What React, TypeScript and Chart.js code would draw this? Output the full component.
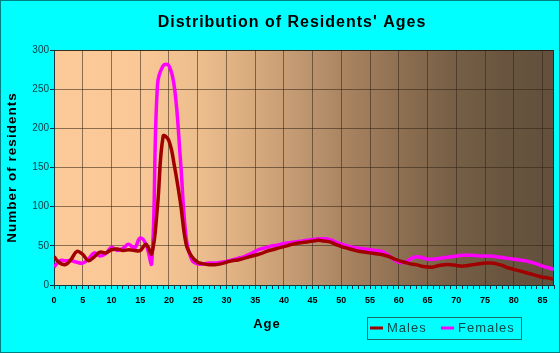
import React, { useEffect, useRef } from 'react';
import { Chart, registerables } from 'chart.js';

Chart.register(...registerables);

const TITLE = "Distribution of Residents' Ages";
const X_TITLE = 'Age';
const Y_TITLE = 'Number of residents';
const SERIES_NAMES = ['Males', 'Females'];
const SERIES_COLORS = ['#A00000', '#FF00FF'];

const AGES = [
  0, 1, 2, 3, 4, 5, 6, 7, 8, 9, 10, 11, 12, 13, 14, 15, 16, 17, 18, 19,
  20, 21, 22, 23, 24, 25, 26, 27, 28, 29, 30, 31, 32, 33, 34, 35, 36, 37, 38, 39,
  40, 41, 42, 43, 44, 45, 46, 47, 48, 49, 50, 51, 52, 53, 54, 55, 56, 57, 58, 59,
  60, 61, 62, 63, 64, 65, 66, 67, 68, 69, 70, 71, 72, 73, 74, 75, 76, 77, 78, 79,
  80, 81, 82, 83, 84, 85, 86, 87,
];

const MALES = [
  36, 28, 26, 33, 43, 39, 31, 36, 42, 41, 45, 46, 44, 45, 44, 44, 52, 40, 100, 190,
  184, 150, 105, 52, 36, 29, 27, 26, 26, 27, 29, 31, 32, 34, 36, 38, 40, 43, 45, 47,
  49, 51, 53, 54, 55, 56, 57, 56, 55, 52, 49, 47, 45, 43, 42, 41, 40, 39, 37, 34,
  31, 29, 27, 26, 24, 23, 23, 25, 26, 26, 25, 24, 25, 26, 27, 28, 28, 27, 25, 22,
  20, 18, 16, 14, 12, 10, 9, 7,
];

const FEMALES = [
  23, 31, 31, 31, 29, 28, 33, 41, 37, 40, 48, 44, 47, 52, 47, 60, 52, 28, 255, 280,
  280, 250, 160, 60, 32, 27, 27, 28, 28, 29, 30, 32, 34, 36, 39, 43, 46, 48, 50, 51,
  53, 54, 55, 56, 57, 58, 59, 59, 58, 55, 52, 50, 48, 47, 46, 45, 44, 43, 39, 33,
  29, 29, 33, 36, 35, 33, 33, 34, 35, 36, 37, 38, 38, 38, 37, 37, 37, 36, 35, 34,
  33, 32, 31, 29, 27, 24, 22, 20,
];

const X_MIN = 0;
const X_MAX = 87;
const X_LABEL_STEP = 5;
const Y_MIN = 0;
const Y_MAX = 300;
const Y_STEP = 50;

const FONT = '"Liberation Sans", Arial, sans-serif';
const GRID = 'rgba(50,35,20,0.55)';
const AXIS = '#103840';

const drawPlugin = {
  id: 'customDraw',
  beforeDraw(chart: any) {
    const { ctx, chartArea: a, width, height } = chart;
    ctx.save();
    ctx.fillStyle = '#00FFFF';
    ctx.fillRect(0, 0, width, height);
    ctx.strokeStyle = '#008080';
    ctx.lineWidth = 1;
    ctx.strokeRect(0.5, 0.5, width - 1, height - 1);
    const g = ctx.createLinearGradient(a.left, 0, a.right, 0);
    g.addColorStop(0, 'rgb(252,202,152)');
    g.addColorStop(0.17, 'rgb(250,200,150)');
    g.addColorStop(0.3, 'rgb(235,188,140)');
    g.addColorStop(0.4, 'rgb(215,170,125)');
    g.addColorStop(0.5, 'rgb(190,150,112)');
    g.addColorStop(0.6, 'rgb(165,128,95)');
    g.addColorStop(0.7, 'rgb(140,110,80)');
    g.addColorStop(0.8, 'rgb(118,95,70)');
    g.addColorStop(0.9, 'rgb(105,85,63)');
    g.addColorStop(1, 'rgb(98,80,60)');
    ctx.fillStyle = g;
    ctx.fillRect(a.left, a.top, a.right - a.left, a.bottom - a.top);
    ctx.restore();
  },
  beforeDatasetsDraw(chart: any) {
    const { ctx, chartArea: a } = chart;
    ctx.save();
    ctx.strokeStyle = 'rgba(40,30,20,0.8)';
    ctx.lineWidth = 1;
    ctx.beginPath();
    ctx.moveTo(a.left, Math.round(a.top) + 0.5);
    ctx.lineTo(Math.round(a.right) - 0.5, Math.round(a.top) + 0.5);
    ctx.lineTo(Math.round(a.right) - 0.5, a.bottom);
    ctx.stroke();
    ctx.restore();
  },
  afterDraw(chart: any) {
    const { ctx } = chart;
    ctx.save();
    (ctx as any).letterSpacing = '1px';
    ctx.textBaseline = 'middle';
    ctx.textAlign = 'center';
    ctx.fillStyle = '#000000';
    ctx.font = `bold 16px ${FONT}`;
    ctx.fillText(TITLE, 292, 23);
    ctx.font = `bold 13px ${FONT}`;
    ctx.fillText(X_TITLE, 267, 324);
    ctx.save();
    ctx.translate(12, 167.5);
    ctx.rotate(-Math.PI / 2);
    ctx.font = `bold 13.5px ${FONT}`;
    ctx.fillText(Y_TITLE, 0, 0);
    ctx.restore();
    ctx.strokeStyle = '#1a6a6a';
    ctx.lineWidth = 1;
    ctx.strokeRect(367.5, 317.5, 154, 22);
    const items = [
      { x: 370, tx: 387 },
      { x: 441, tx: 458 },
    ];
    ctx.textAlign = 'left';
    ctx.font = `13px ${FONT}`;
    items.forEach((it, i) => {
      ctx.strokeStyle = SERIES_COLORS[i];
      ctx.lineWidth = 3;
      ctx.beginPath();
      ctx.moveTo(it.x, 328);
      ctx.lineTo(it.x + 13, 328);
      ctx.stroke();
      ctx.fillStyle = '#0a4a4a';
      ctx.fillText(SERIES_NAMES[i], it.tx, 328.5);
    });
    (ctx as any).letterSpacing = '0px';
    ctx.restore();
  },
};

export default function App() {
  const ref = useRef<HTMLCanvasElement | null>(null);

  useEffect(() => {
    if (!ref.current) return;
    const series = [MALES, FEMALES];
    const chart = new Chart(ref.current, {
      type: 'line',
      data: {
        datasets: series.map((vals, i) => ({
          label: SERIES_NAMES[i],
          data: AGES.map((age, j) => ({ x: age, y: vals[j] })),
          borderColor: SERIES_COLORS[i],
          backgroundColor: SERIES_COLORS[i],
          borderWidth: 3.5,
          pointRadius: 0,
          tension: 0.4,
          fill: false,
        })),
      },
      options: {
        responsive: false,
        animation: false,
        devicePixelRatio: 1,
        layout: { padding: { left: 0, right: 5, top: 50, bottom: 0 } },
        plugins: {
          legend: { display: false },
          title: { display: false },
          tooltip: { enabled: false },
        },
        scales: {
          x: {
            type: 'linear',
            min: X_MIN,
            max: X_MAX,
            afterFit: (s: any) => {
              s.height = 68;
            },
            ticks: {
              stepSize: 1,
              autoSkip: false,
              maxRotation: 0,
              minRotation: 0,
              padding: 6,
              color: '#000000',
              font: { family: FONT, size: 9, weight: 'bold' },
              callback: (v: any) => (Number(v) % X_LABEL_STEP === 0 ? String(v) : ''),
            },
            grid: {
              color: (c: any) =>
                c.tick && c.tick.value % X_LABEL_STEP === 0 ? GRID : 'rgba(0,0,0,0)',
              tickColor: AXIS,
              tickLength: 4,
              drawTicks: true,
              lineWidth: 1,
            },
            border: { display: true, color: AXIS, width: 1 },
          },
          y: {
            type: 'linear',
            min: Y_MIN,
            max: Y_MAX,
            afterFit: (s: any) => {
              s.width = 54;
            },
            ticks: {
              stepSize: Y_STEP,
              padding: 1,
              color: '#0d3b44',
              font: { family: FONT, size: 10 },
            },
            grid: {
              color: GRID,
              tickColor: AXIS,
              tickLength: 4,
              drawTicks: true,
              lineWidth: 1,
            },
            border: { display: true, color: AXIS, width: 1 },
          },
        },
      },
      plugins: [drawPlugin],
    } as any);
    return () => chart.destroy();
  }, []);

  return (
    <div style={{ position: 'fixed', left: 0, top: 0, width: 560, height: 353 }}>
      <canvas ref={ref} width={560} height={353} style={{ display: 'block' }} />
    </div>
  );
}
